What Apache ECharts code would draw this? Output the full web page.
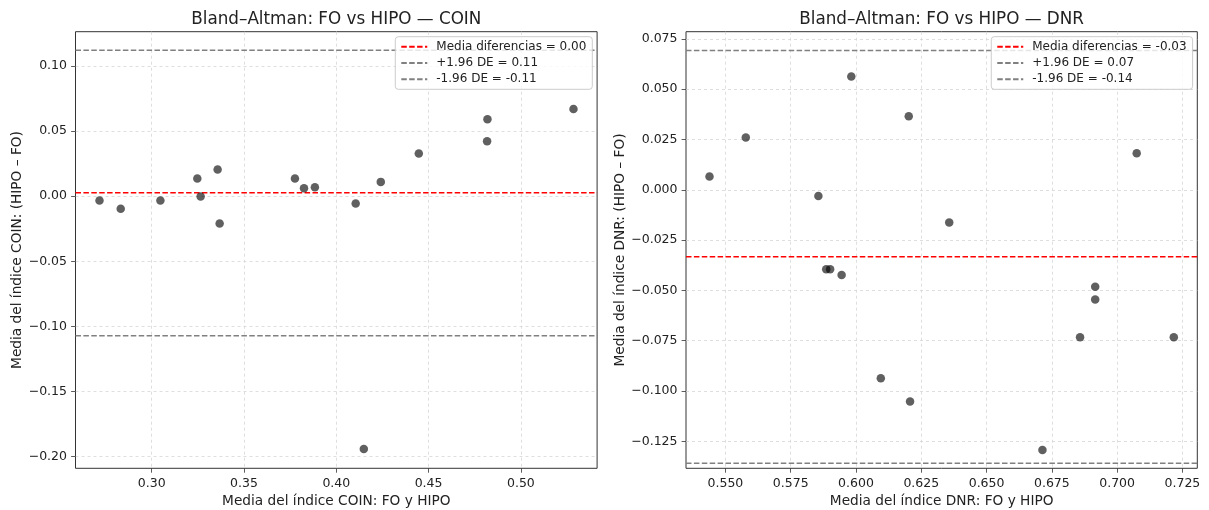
<!DOCTYPE html>
<html><head><meta charset="utf-8">
<script src="https://cdn.jsdelivr.net/npm/echarts@6/dist/echarts.min.js"></script>
<style>html,body{margin:0;padding:0;background:#fff}#c{width:1209px;height:510px}</style>
</head><body><div id="c"></div>
<script>
// ---- COIN panel data ----
const coinX = [0.2717, 0.2832, 0.3047, 0.3247, 0.3265, 0.3357, 0.3368, 0.3776, 0.3825, 0.3884, 0.4105, 0.4241, 0.4447, 0.4819, 0.4817, 0.5285, 0.4149];
const coinY = [-0.0033, -0.0097, -0.0033, 0.0136, -0.0003, 0.0205, -0.0210, 0.0136, 0.0062, 0.0069, -0.0056, 0.0110, 0.0327, 0.0591, 0.0422, 0.0670, -0.1941];
const coinMean = 0.0026;
const coinUpper = 0.1120;
const coinLower = -0.1072;
const coinXRange = [0.2587, 0.5413];
const coinYRange = [-0.2089, 0.1263];
const coinXTicks = [0.30, 0.35, 0.40, 0.45, 0.50];
const coinYTicks = [-0.20, -0.15, -0.10, -0.05, 0.00, 0.05, 0.10];

// ---- DNR panel data ----
const dnrX = [0.5439, 0.5578, 0.5856, 0.5982, 0.6202, 0.6357, 0.7075, 0.5886, 0.5901, 0.5945, 0.6095, 0.6207, 0.6714, 0.6858, 0.6916, 0.6916, 0.7217];
const dnrY = [0.0066, 0.0260, -0.0031, 0.0563, 0.0366, -0.0162, 0.0182, -0.0395, -0.0395, -0.0423, -0.0937, -0.1052, -0.1293, -0.0733, -0.0482, -0.0545, -0.0733];
const dnrMean = -0.0332;
const dnrUpper = 0.0692;
const dnrLower = -0.1359;
const dnrXRange = [0.5349, 0.7307];
const dnrYRange = [-0.1384, 0.0786];
const dnrXTicks = [0.550, 0.575, 0.600, 0.625, 0.650, 0.675, 0.700, 0.725];
const dnrYTicks = [-0.125, -0.100, -0.075, -0.050, -0.025, 0.000, 0.025, 0.050, 0.075];

const FONT = 'DejaVu Sans';
const TXT = '#222';

function fmt(d) {
  return function (v) {
    let r = Number(v.toFixed(d));
    if (Math.abs(r) < 1e-12) r = 0;
    return (r < 0 ? '\u2212' : '') + Math.abs(r).toFixed(d);
  };
}
function lbl(v) { return (Math.abs(v) < 0.005 ? 0 : v).toFixed(2); }

function axis(gi, range, ticks, dec, name, gap) {
  return {
    type: 'value', gridIndex: gi, min: range[0], max: range[1],
    axisLine: { show: false, onZero: false },
    axisTick: { show: true, inside: false, length: 4.4, customValues: ticks, lineStyle: { color: '#333', width: 0.8 } },
    axisLabel: { customValues: ticks, formatter: fmt(dec), fontSize: 12.5, color: TXT, fontFamily: FONT, margin: 8.5 },
    splitLine: { show: true, lineStyle: { type: [3, 3], color: '#d6d6d6', width: 0.8 } },
    name: name, nameLocation: 'middle', nameGap: gap,
    nameTextStyle: { fontSize: 13.7, color: TXT, fontFamily: FONT }
  };
}

const coinNames = ['Media diferencias = ' + lbl(coinMean), '+1.96 DE = ' + lbl(coinUpper), '-1.96 DE = ' + lbl(coinLower)];
const dnrNames = ['Media diferencias = ' + lbl(dnrMean), '+1.96 DE = ' + lbl(dnrUpper), '-1.96 DE = ' + lbl(dnrLower)];

function hline(name, gi, xr, v, color) {
  return {
    type: 'line', name: name, xAxisIndex: gi, yAxisIndex: gi,
    data: [[xr[0], v], [xr[1], v]], symbol: 'none', silent: true, z: 3,
    itemStyle: { color: color },
    lineStyle: { color: color, width: 1.5, type: [5.5, 2.4] }
  };
}

function legend(names, right) {
  return {
    data: names, orient: 'vertical', right: right, top: 36.7,
    itemWidth: 26, itemHeight: 14, itemGap: 4.3,
    padding: [4, 6, 4, 5],
    borderColor: '#cccccc', borderWidth: 1, borderRadius: 3,
    backgroundColor: 'rgba(255,255,255,0.8)',
    itemStyle: { opacity: 0 },
    textStyle: { fontSize: 12, color: TXT, fontFamily: FONT, padding: [0, 0, 0, 4] },
    selectedMode: false
  };
}

const chart = echarts.init(document.getElementById('c'), null, { renderer: 'canvas' });
chart.setOption({
  animation: false,
  backgroundColor: '#fff',
  textStyle: { fontFamily: FONT },
  title: [
    { text: 'Bland\u2013Altman: FO vs HIPO \u2014 COIN', left: 331.3, top: 6, textAlign: 'center',
      textStyle: { fontSize: 16.8, fontWeight: 'normal', color: TXT, fontFamily: FONT } },
    { text: 'Bland\u2013Altman: FO vs HIPO \u2014 DNR', left: 936.6, top: 6, textAlign: 'center',
      textStyle: { fontSize: 16.8, fontWeight: 'normal', color: TXT, fontFamily: FONT } }
  ],
  grid: [
    { left: 75.5, top: 31.7, width: 521.6, height: 436.6, outerBoundsMode: 'none', containLabel: false, show: true, borderColor: '#333', borderWidth: 1, backgroundColor: 'transparent' },
    { left: 686, top: 31.7, width: 511.3, height: 436.6, outerBoundsMode: 'none', containLabel: false, show: true, borderColor: '#333', borderWidth: 1, backgroundColor: 'transparent' }
  ],
  xAxis: [
    axis(0, coinXRange, coinXTicks, 2, 'Media del \u00edndice COIN: FO y HIPO', 20),
    axis(1, dnrXRange, dnrXTicks, 3, 'Media del \u00edndice DNR: FO y HIPO', 20)
  ],
  yAxis: [
    axis(0, coinYRange, coinYTicks, 2, 'Media del \u00edndice COIN: (HIPO \u2013 FO)', 50),
    axis(1, dnrYRange, dnrYTicks, 3, 'Media del \u00edndice DNR: (HIPO \u2013 FO)', 52)
  ],
  legend: [legend(coinNames, 616.7), legend(dnrNames, 16.4)],
  series: [
    { type: 'scatter', name: 'COIN', xAxisIndex: 0, yAxisIndex: 0, z: 5,
      data: coinX.map((x, i) => [x, coinY[i]]), symbolSize: 8.5,
      itemStyle: { color: 'rgba(0,0,0,0.78)' } },
    hline(coinNames[0], 0, coinXRange, coinMean, '#ff0000'),
    hline(coinNames[1], 0, coinXRange, coinUpper, '#808080'),
    hline(coinNames[2], 0, coinXRange, coinLower, '#808080'),
    { type: 'scatter', name: 'DNR', xAxisIndex: 1, yAxisIndex: 1, z: 5,
      data: dnrX.map((x, i) => [x, dnrY[i]]), symbolSize: 8.5,
      itemStyle: { color: 'rgba(0,0,0,0.78)' } },
    hline(dnrNames[0], 1, dnrXRange, dnrMean, '#ff0000'),
    hline(dnrNames[1], 1, dnrXRange, dnrUpper, '#808080'),
    hline(dnrNames[2], 1, dnrXRange, dnrLower, '#808080')
  ]
});
</script>
</body></html>
